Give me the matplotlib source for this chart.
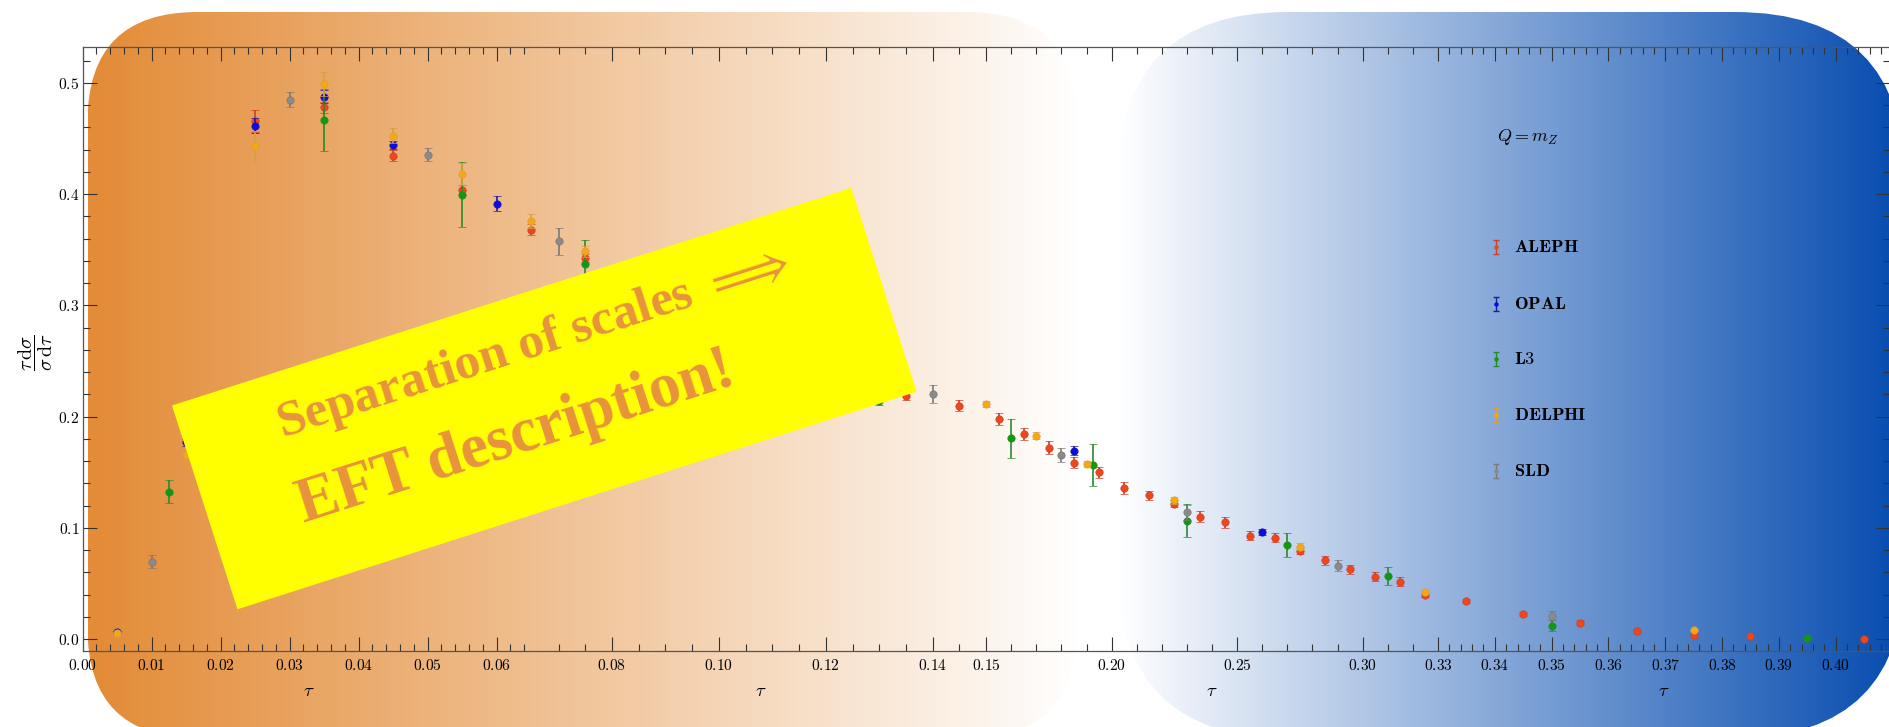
import numpy as np
import matplotlib
matplotlib.use("Agg")
import matplotlib.pyplot as plt
from matplotlib.patches import FancyBboxPatch, Polygon

plt.rcParams['mathtext.fontset'] = 'cm'

W, H = 1890, 727

# ---------------- data ----------------
aleph_tau = [0.025, 0.035, 0.045, 0.055, 0.065, 0.075, 0.135, 0.145, 0.155, 0.165,
             0.175, 0.185, 0.195, 0.205, 0.215, 0.225, 0.235, 0.245, 0.255, 0.265,
             0.275, 0.285, 0.295, 0.305, 0.315, 0.325, 0.335, 0.345, 0.355, 0.365,
             0.375, 0.385, 0.405]
aleph_val = [0.466, 0.478, 0.4346, 0.404, 0.368, 0.3426, 0.219, 0.210, 0.1978, 0.1843,
             0.1723, 0.1588, 0.1502, 0.1358, 0.1292, 0.1217, 0.1103, 0.1052, 0.0932, 0.0911,
             0.0797, 0.0710, 0.0629, 0.0563, 0.0518, 0.0398, 0.0344, 0.0225, 0.0150, 0.0075,
             0.0042, 0.0027, 0.0006]
aleph_err = [0.010, 0.005, 0.005, 0.004, 0.005, 0.004, 0.004, 0.005, 0.0055, 0.0055,
             0.0055, 0.005, 0.005, 0.0055, 0.004, 0.003, 0.005, 0.005, 0.004, 0.004,
             0.003, 0.004, 0.004, 0.004, 0.004, 0.002, 0.002, 0.002, 0.002, 0.0015,
             0.001, 0.001, 0.0005]

opal_tau = [0.005, 0.015, 0.025, 0.035, 0.045, 0.060, 0.185, 0.260]
opal_val = [0.0066, 0.177, 0.4616, 0.4877, 0.4442, 0.3915, 0.1693, 0.0965]
opal_err = [0.001, 0.003, 0.0065, 0.006, 0.004, 0.0065, 0.004, 0.003]

l3_tau = [0.0125, 0.035, 0.055, 0.075, 0.130, 0.160, 0.1925, 0.230, 0.270, 0.310, 0.350, 0.395]
l3_val = [0.1327, 0.4664, 0.3995, 0.337, 0.2145, 0.1807, 0.1567, 0.1067, 0.0848, 0.0569, 0.0122, 0.0015]
l3_err = [0.010, 0.028, 0.029, 0.022, 0.004, 0.0175, 0.0186, 0.0144, 0.0105, 0.0084, 0.005, 0.001]

delphi_tau = [0.005, 0.015, 0.025, 0.035, 0.045, 0.055, 0.065, 0.075, 0.150, 0.170,
              0.190, 0.225, 0.275, 0.325, 0.375]
delphi_val = [0.0054, 0.1657, 0.443, 0.4988, 0.4526, 0.4184, 0.3759, 0.3486, 0.2113, 0.1831,
              0.1574, 0.1247, 0.0833, 0.0425, 0.0084]
delphi_err = [0.001, 0.0075, 0.014, 0.011, 0.007, 0.010, 0.006, 0.005, 0.003, 0.003,
              0.003, 0.003, 0.003, 0.002, 0.001]

sld_tau = [0.010, 0.030, 0.050, 0.070, 0.140, 0.180, 0.230, 0.290, 0.350]
sld_val = [0.0698, 0.485, 0.4355, 0.3576, 0.2206, 0.1657, 0.1142, 0.0659, 0.0212]
sld_err = [0.006, 0.007, 0.006, 0.012, 0.008, 0.0066, 0.0066, 0.005, 0.004]

experiments = ["ALEPH", "OPAL", "L3", "DELPHI", "SLD"]

# x-axis: four equal-width panels
panel_edges = [0.0, 0.0655, 0.15, 0.33, 0.4095]
panel_frac = [0.0, 0.25, 0.5, 0.75, 1.0]

xmajor = [0.00, 0.01, 0.02, 0.03, 0.04, 0.05, 0.06,
          0.08, 0.10, 0.12, 0.14, 0.15,
          0.20, 0.25, 0.30, 0.33,
          0.34, 0.35, 0.36, 0.37, 0.38, 0.39, 0.40]
xmajor_labels = ["0.00", "0.01", "0.02", "0.03", "0.04", "0.05", "0.06",
                 "0.08", "0.10", "0.12", "0.14", "0.15",
                 "0.20", "0.25", "0.30", "0.33",
                 "0.34", "0.35", "0.36", "0.37", "0.38", "0.39", "0.40"]
yticks = [0.0, 0.1, 0.2, 0.3, 0.4, 0.5]
ytick_labels = ["0.0", "0.1", "0.2", "0.3", "0.4", "0.5"]


def _pw(x, xs, ys):
    x = np.asarray(x, dtype=float)
    y = np.interp(x, xs, ys)
    lo = ys[0] + (x - xs[0]) * (ys[1] - ys[0]) / (xs[1] - xs[0])
    hi = ys[-1] + (x - xs[-1]) * (ys[-1] - ys[-2]) / (xs[-1] - xs[-2])
    y = np.where(x < xs[0], lo, y)
    y = np.where(x > xs[-1], hi, y)
    return y


def fwd(x):
    return _pw(x, panel_edges, panel_frac)


def inv(y):
    return _pw(y, panel_frac, panel_edges)


def _minor(start, stop, step, skip):
    vals = np.round(np.arange(start, stop + 1e-9, step), 4)
    return [v for v in vals if not any(abs(v - s) < 1e-6 for s in skip)]

xminor = (_minor(0.002, 0.064, 0.002, xmajor) + _minor(0.07, 0.145, 0.005, xmajor)
          + _minor(0.16, 0.32, 0.01, xmajor) + _minor(0.332, 0.408, 0.002, xmajor))
yminor = _minor(0.02, 0.52, 0.02, yticks)

# ---------------- figure ----------------
fig = plt.figure(figsize=(W / 100, H / 100), dpi=100)

ax_bg = fig.add_axes([0, 0, 1, 1], zorder=0)
ax_bg.axis('off')


def grad_box(ax, x0, y0, x1, y1, r, c0, c1):
    t = np.linspace(0, 1, 600)
    c0 = np.array(c0) / 255.0
    c1 = np.array(c1) / 255.0
    img = (c0[None, :] * (1 - t[:, None]) + c1[None, :] * t[:, None])[None, :, :]
    im = ax.imshow(img, extent=(x0, x1, y1, y0), aspect='auto',
                   interpolation='bilinear', zorder=1)
    patch = FancyBboxPatch((x0, y0), x1 - x0, y1 - y0,
                           boxstyle=f"round,pad=0,rounding_size={r}",
                           fc='none', ec='none', transform=ax.transData)
    ax.add_patch(patch)
    im.set_clip_path(patch)


grad_box(ax_bg, 87.5, 12, 1077, 738, 110, (227, 139, 54), (255, 255, 255))
grad_box(ax_bg, 1118, 12, 1905, 738, 170, (255, 255, 255), (5, 75, 175))
ax_bg.set_xlim(0, W)
ax_bg.set_ylim(H, 0)

# main axes
L, R, T, B = 82.7, 1889.7, 47.3, 650.7
ax = fig.add_axes([L / W, 1 - B / H, (R - L) / W, (B - T) / H], zorder=2)
ax.set_facecolor('none')
ax.set_xscale('function', functions=(fwd, inv))
ax.set_xlim(panel_edges[0], panel_edges[-1])
ax.set_ylim(-0.0103, 0.532)

styles = {
    "ALEPH": ("#f0461a", "#c8402a"),
    "OPAL": ("#0b0be6", "#1a1aa0"),
    "L3": ("#0d9a0d", "#2a8a2a"),
    "DELPHI": ("#f5a812", "#d9a040"),
    "SLD": ("#8a8a8a", "#7a7a7a"),
}
series = {
    "ALEPH": (aleph_tau, aleph_val, aleph_err),
    "OPAL": (opal_tau, opal_val, opal_err),
    "L3": (l3_tau, l3_val, l3_err),
    "DELPHI": (delphi_tau, delphi_val, delphi_err),
    "SLD": (sld_tau, sld_val, sld_err),
}
for i, name in enumerate(experiments):
    t, v, e = series[name]
    fc, ec = styles[name]
    ax.errorbar(t, v, yerr=e, fmt='o', color=fc, ecolor=ec, mec=ec, mew=0.5,
                ms=5.3, capsize=3.0, elinewidth=1.2, capthick=1.2, zorder=3 + i)

ax.set_xticks(xmajor)
ax.set_xticklabels([r'$\mathbf{%s}$' % s for s in xmajor_labels])
ax.set_xticks(xminor, minor=True)
ax.set_yticks(yticks)
ax.set_yticklabels([r'$\mathbf{%s}$' % s for s in ytick_labels])
ax.set_yticks(yminor, minor=True)
ax.tick_params(which='both', direction='in', top=True, right=True, color='#333333', width=0.8)
ax.tick_params(which='major', length=9.8)
ax.tick_params(which='minor', length=4.8)
ax.tick_params(axis='x', which='major', labelsize=11.2, pad=5)
ax.tick_params(axis='y', which='major', labelsize=11.2, pad=2.5)
for sp in ax.spines.values():
    sp.set_color('#555555')
    sp.set_linewidth(0.9)

for f in [0.125, 0.375, 0.625, 0.875]:
    ax.text(f, (B - 690.7) / (B - T), r'$\tau$', transform=ax.transAxes,
            ha='center', va='center', fontsize=13.5)

fig.text(36 / W, 1 - 352 / H, r'$\dfrac{\tau\,\mathrm{d}\sigma}{\sigma\,\mathrm{d}\tau}$',
         rotation=90, ha='center', va='center', fontsize=14.5)

# overlay: legend, banner
ax_ov = fig.add_axes([0, 0, 1, 1], zorder=5)
ax_ov.axis('off')
ax_ov.set_xlim(0, W)
ax_ov.set_ylim(H, 0)

ax_ov.text(1496.7, 136.7, r'$Q = m_Z$', ha='left', va='center', fontsize=13)
leg_y = [246.7, 304.0, 359.3, 415.0, 470.7]
for name, y in zip(experiments, leg_y):
    fc, ec = styles[name]
    ax_ov.errorbar([1496], [y], yerr=[7], fmt='o', color=fc, ecolor=ec, ms=2.2,
                   capsize=2, elinewidth=1.0, capthick=1.0)
    ax_ov.text(1514, y, r'$\mathbf{%s}$' % name, ha='left', va='center', fontsize=13.2)

banner = Polygon([(172, 405.5), (851.2, 187.9), (916.7, 391.7), (237.5, 609.3)],
                 closed=True, fc='#ffff00', ec='none', zorder=2)
ax_ov.add_patch(banner)
ang = np.degrees(np.arctan2(217.6, 679.2))
tcol = '#e8933d'
ax_ov.text(282, 438, r"Separation of scales $\Longrightarrow$", rotation=ang,
           rotation_mode='anchor', ha='left', va='baseline', fontsize=37,
           fontweight='bold', family='Liberation Serif', color=tcol, zorder=3)
ax_ov.text(738, 384, "EFT description!", rotation=ang, rotation_mode='anchor',
           ha='right', va='baseline', fontsize=45, fontweight='bold',
           family='Liberation Serif', color=tcol, zorder=3)

fig.savefig("out.png", dpi=100)
